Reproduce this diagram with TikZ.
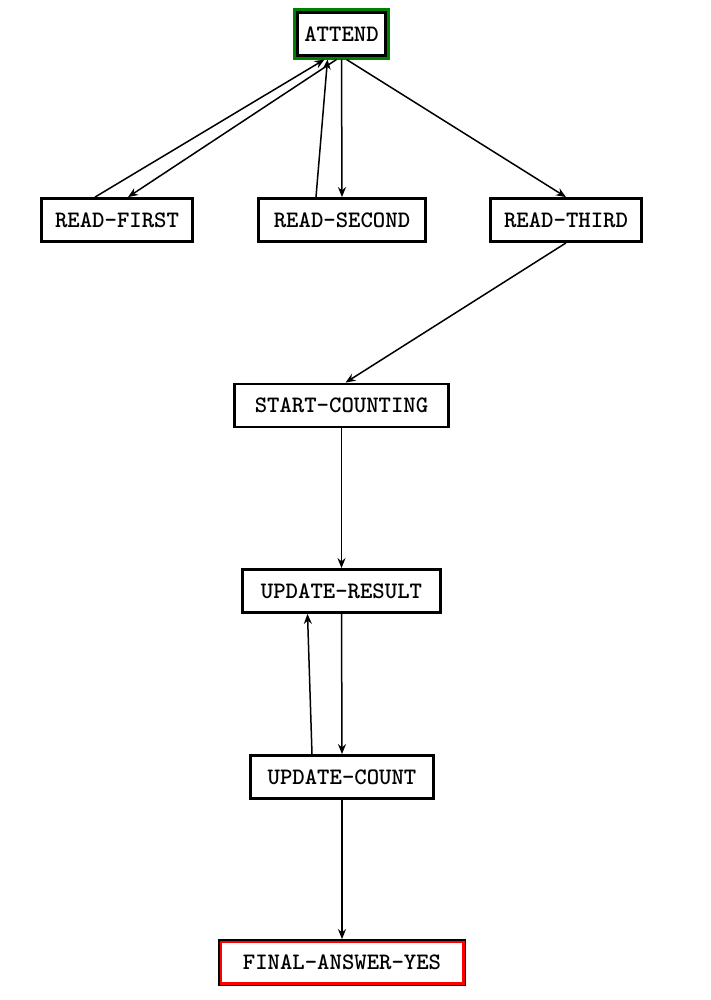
\documentclass[tikz,border=0pt]{standalone}
\usepackage{fontspec}
\usetikzlibrary{arrows.meta}
\begin{document}
\begin{tikzpicture}[x=1pt,y=-1pt,
  box/.style={draw=black, line width=2.8pt, fill=white, inner sep=0pt,
    minimum height=43pt, font=\ttfamily\bfseries\fontsize{23.6}{28}\selectfont},
  conn/.style={line width=1.5pt, -{Stealth[length=10pt,width=8pt]}}]
\useasboundingbox (0,0) rectangle (710,1000);
\node[box, minimum width=88pt, minimum height=43pt, outer sep=4pt] (at) at (341.5,34) {ATTEND};
\draw[green!50!black, line width=2.8pt] ([xshift=1.2pt,yshift=1.2pt]at.south west) rectangle ([xshift=-1.2pt,yshift=-1.2pt]at.north east);
\node[box, minimum width=151pt] (rf) at (117,220) {READ-FIRST};
\node[box, minimum width=167pt] (rs) at (342,220) {READ-SECOND};
\node[box, minimum width=151pt] (rt) at (566,220) {READ-THIRD};
\node[box, minimum width=214pt] (sc) at (341.5,405.5) {START-COUNTING};
\node[box, minimum width=198pt] (ur) at (341.5,591) {UPDATE-RESULT};
\node[box, minimum width=183pt] (uc) at (342,777) {UPDATE-COUNT};
\node[box, minimum width=245pt, minimum height=44pt] (fa) at (342,962.5) {FINAL-ANSWER-YES};
\draw[red, line width=2.8pt] ([xshift=2.8pt,yshift=2.8pt]fa.south west) rectangle ([xshift=-2.8pt,yshift=-2.8pt]fa.north east);
\draw[conn] ([xshift=-22pt]rf.north) -- ([xshift=-17pt]at.south);
\draw[conn] ([xshift=-5pt]at.south) -- ([xshift=11pt]rf.north);
\draw[conn] ([xshift=-26pt]rs.north) -- ([xshift=-14pt]at.south);
\draw[conn] (at.south) -- (rs.north);
\draw[conn] ([xshift=5pt]at.south) -- (rt.north);
\draw[conn] (rt.south) -- ([xshift=4pt]sc.north);
\draw[conn] (sc.south) -- (ur.north);
\draw[conn] (ur.south) -- (uc.north);
\draw[conn] ([xshift=-30pt]uc.north) -- ([xshift=-34pt]ur.south);
\draw[conn] (uc.south) -- (fa.north);
\end{tikzpicture}
\end{document}
